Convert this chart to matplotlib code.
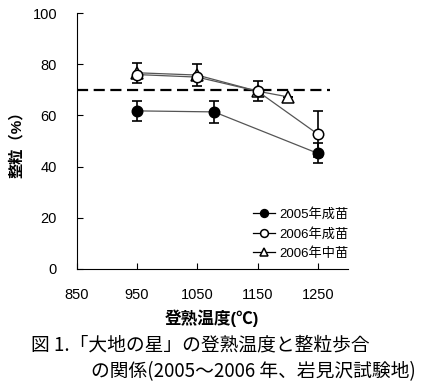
import matplotlib
matplotlib.use("Agg")
import matplotlib.pyplot as plt

plt.rcParams['font.family'] = ['Liberation Sans', 'Noto Sans CJK JP', 'DejaVu Sans']

# data
x05 = [950, 1078, 1250]
y05 = [61.8, 61.4, 45.2]
e05 = [4.0, 4.3, 3.9]

x06a = [950, 1050, 1150, 1250]
y06a = [76.0, 75.0, 69.5, 52.7]
e06a = [0, 0, 3.8, 9.0]

x06b = [950, 1050, 1150, 1200]
y06b = [76.7, 75.8, 69.5, 67.3]
e06b = [4.0, 4.2, 0, 0]

labels = ['2005年成苗', '2006年成苗', '2006年中苗']
threshold = 70
xticks = [850, 950, 1050, 1150, 1250]
yticks = [0, 20, 40, 60, 80, 100]

fig = plt.figure(figsize=(4.45, 3.87), dpi=100)
ax = fig.add_axes([0.172, 0.305, 0.61, 0.661])

ax.plot([850, 1270], [threshold, threshold], color='black', lw=1.6, ls=(0, (5, 2.5)), zorder=1)

lc = '#555555'
eb = dict(fmt='none', ecolor='black', elinewidth=1.2, capsize=3.5, capthick=1.2, zorder=2)
ax.errorbar(x06b, y06b, yerr=e06b, **eb)
ax.errorbar(x06a, y06a, yerr=e06a, **eb)
ax.errorbar(x05, y05, yerr=e05, **eb)

h3, = ax.plot(x06b, y06b, color=lc, lw=0.9, marker='^', ms=8, mfc='white', mec='black', mew=1.1, zorder=3)
h2, = ax.plot(x06a, y06a, color=lc, lw=0.9, marker='o', ms=7.5, mfc='white', mec='black', mew=1.1, zorder=4)
h1, = ax.plot(x05, y05, color=lc, lw=0.9, marker='o', ms=7.5, mfc='black', mec='black', mew=1.1, zorder=4)

ax.set_xlim(850, 1300)
ax.set_ylim(0, 100)
ax.set_xticks(xticks)
ax.set_yticks(yticks)
ax.tick_params(direction='in', length=4, width=0.8, labelsize=10.5, pad=14)
for s in ['top', 'right']:
    ax.spines[s].set_visible(False)
for s in ['left', 'bottom']:
    ax.spines[s].set_linewidth(0.8)

ax.set_xlabel('登熟温度(℃)', fontsize=12, fontweight='bold', labelpad=5)
ax.set_ylabel('整粒（%）', fontsize=11, fontweight='bold', labelpad=6)

leg = ax.legend([h1, h2, h3], labels, loc='lower right', bbox_to_anchor=(1.045, -0.01),
                frameon=False, fontsize=9.5, handlelength=1.7, handletextpad=0.3,
                labelspacing=0.5, markerscale=0.75)
for h in leg.legend_handles:
    h.set_color('black')

fig.text(0.07, 0.108, '図 1.「大地の星」の登熟温度と整粒歩合', fontsize=13.5,
         family=['Noto Sans CJK JP'], va='center', ha='left')
fig.text(0.205, 0.041, 'の関係(2005～2006 年、岩見沢試験地)', fontsize=13.5,
         family=['Noto Sans CJK JP'], va='center', ha='left')

fig.savefig('out.png', dpi=100)
